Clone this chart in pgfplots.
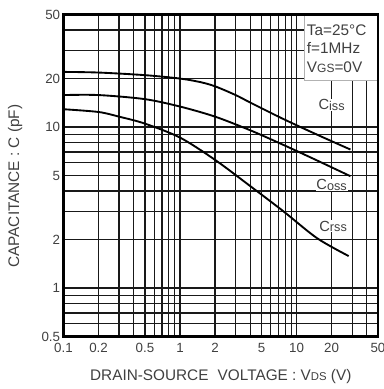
\documentclass[border=0pt]{standalone}
\usepackage{pgfplots}
\pgfplotsset{compat=1.18}
\usepackage{fontspec}
\setmainfont{Liberation Sans}
\definecolor{txt}{gray}{0.25}
\begin{document}
\begin{tikzpicture}
\begin{axis}[
 at={(0,0)}, anchor=south west,
 scale only axis, width=235.875pt, height=241.5pt,
 xmode=log, ymode=log,
 xmin=0.1, xmax=50, ymin=0.5, ymax=50,
 xtick={0.1,0.2,0.5,1,2,5,10,20,50},
 xticklabels={0.1,0.2,0.5,1,2,5,10,20,50},
 minor xtick={0.3,0.4,0.6,0.7,0.8,0.9,3,4,6,7,8,9,30,40},
 ytick={0.5,1,2,5,10,20,50},
 yticklabels={0.5,1,2,5,10,20,50},
 minor ytick={0.6,0.7,0.8,0.9,3,4,6,7,8,9,30,40},
 grid=both,
 major grid style={line width=0.95pt, black!90},
 minor grid style={line width=0.95pt, black!90},
 major tick length=0pt, minor tick length=0pt,
 axis line style={line width=1.6pt},
 tick label style={font=\fontsize{10}{12}\selectfont, text=txt},
 xticklabel style={yshift=-1.5pt},
 yticklabel style={xshift=1pt},
 xlabel={DRAIN-SOURCE\hspace{0.6em}VOLTAGE : V{\fontsize{8.5}{10}\selectfont DS} (V)},
 ylabel={CAPACITANCE : C (pF)},
 label style={font=\fontsize{11.5}{13}\selectfont, text=txt},
 xlabel style={at={(rel axis cs:0.5,-0.1258)}, anchor=center},
 ylabel style={at={(rel axis cs:-0.154,0.467)}, anchor=center},
]
% Ciss
\addplot[black, line width=1.4pt, smooth] coordinates {
 (0.1,22.0) (0.2,21.8) (0.5,21.0) (1,20.0) (1.5,19.0) (2,17.9) (3,15.8) (4,14.2) (7,11.6) (10.8,10.0) (18,8.45) (29,7.25)};
% Coss
\addplot[black, line width=1.4pt, smooth] coordinates {
 (0.1,15.8) (0.2,15.8) (0.5,14.9) (1,13.4) (2,11.6) (4,9.55) (7.7,7.75) (15,6.2) (29,4.95)};
% Crss
\addplot[black, line width=1.4pt, smooth] coordinates {
 (0.1,12.9) (0.2,12.4) (0.3,11.6) (0.5,10.5) (1,8.6) (2,6.25) (4,4.3) (7.7,3.0) (15,2.04) (28,1.58)};

\node[fill=white, inner sep=0.6pt, text=txt, font=\fontsize{11}{12}\selectfont] at (axis cs:20,13.7) {C\raisebox{-0.4pt}{\fontsize{9.5}{10}\selectfont iss}};
\node[fill=white, inner sep=0.6pt, text=txt, font=\fontsize{11}{12}\selectfont] at (axis cs:20,4.36) {C\raisebox{-0.4pt}{\fontsize{9.5}{10}\selectfont oss}};
\node[fill=white, inner sep=0.6pt, text=txt, font=\fontsize{11}{12}\selectfont] at (axis cs:20.6,2.42) {C\raisebox{-0.4pt}{\fontsize{9.5}{10}\selectfont rss}};

\node[draw=black!30, line width=0.6pt, fill=white, anchor=north east, minimum width=54.75pt, minimum height=49.1pt, inner sep=0pt] at (rel axis cs:1,1) {};
\node[anchor=north west, align=left, font=\fontsize{11.5}{13.75}\selectfont, text=txt, inner sep=0pt] at (rel axis cs:0.7733,0.969) {Ta=25°C\\f=1MHz\\V{\fontsize{9}{10}\selectfont GS}=0V};
\draw[line width=1.6pt] (rel axis cs:0,0) rectangle (rel axis cs:1,1);
\end{axis}
\pgfresetboundingbox
\path[use as bounding box] (-47.625pt,-39.375pt) rectangle (239.625pt,252.375pt);
\end{tikzpicture}
\end{document}
